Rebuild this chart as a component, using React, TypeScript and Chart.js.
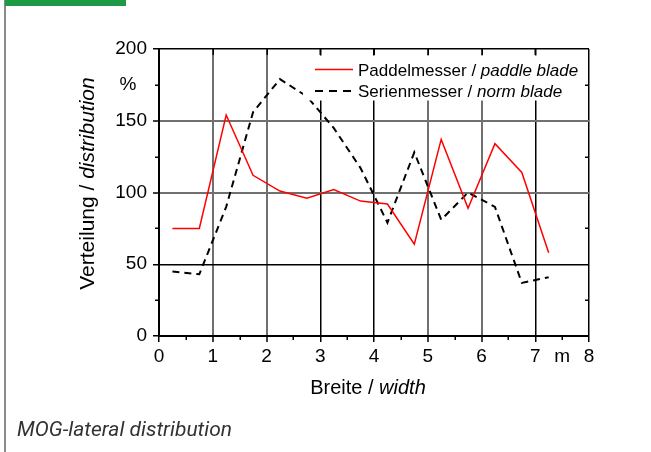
import React, { useEffect, useRef } from 'react';
import { Chart, registerables } from 'chart.js';

Chart.register(...registerables);

// ---- data ----
const xPositions = [0.25, 0.75, 1.25, 1.75, 2.25, 2.75, 3.25, 3.75, 4.25, 4.75, 5.25, 5.75, 6.25, 6.75, 7.25];
const paddleBlade = [75, 75, 154, 112, 101, 96, 102, 94, 92, 64, 137, 89, 134, 114, 58];
const normBlade = [45, 43, 90, 156, 179, 167, 145, 117, 79, 128, 81, 100, 90, 37, 41];

const seriesNormal = ['Paddelmesser / ', 'Serienmesser / '];
const seriesItalic = ['paddle blade', 'norm blade'];
const xTitle = ['Breite / ', 'width'];
const yTitle = ['Verteilung / ', 'distribution'];
const caption = 'MOG-lateral distribution';

const xUnitValue = 7.5;
const xUnitLabel = 'm';
const yUnitValue = 175;
const yUnitLabel = '%';

const X_MIN = 0, X_MAX = 8, X_STEP = 0.5;
const Y_MIN = 0, Y_MAX = 200, Y_STEP = 25;

const darkX = [0, 3, 4, 7, 8];
const darkY = [0, 50, 200];

const FONT = '"Liberation Sans", Arial, Helvetica, sans-serif';

const isMajorX = (v: number) => Number.isInteger(v);
const isMajorY = (v: number) => v % 50 === 0;

function drawMixed(ctx: CanvasRenderingContext2D, parts: string[], x: number, y: number, size: number, align: 'left' | 'center') {
  ctx.font = `${size}px ${FONT}`;
  const w0 = ctx.measureText(parts[0]).width;
  ctx.font = `italic ${size}px ${FONT}`;
  const w1 = ctx.measureText(parts[1]).width;
  const sx = align === 'center' ? x - (w0 + w1) / 2 : x;
  ctx.textAlign = 'left';
  ctx.textBaseline = 'alphabetic';
  ctx.font = `${size}px ${FONT}`;
  ctx.fillText(parts[0], sx, y);
  ctx.font = `italic ${size}px ${FONT}`;
  ctx.fillText(parts[1], sx + w0, y);
}

const overlayPlugin = {
  id: 'overlay',
  afterDatasetsDraw(chart: any) {
    const { ctx, chartArea } = chart;
    const ca = chartArea;
    ctx.save();
    // legend box (covers grid & data)
    ctx.fillStyle = '#ffffff';
    const boxLeft = ca.left + 144;
    ctx.fillRect(boxLeft, ca.top + 6.5, ca.right - 1 - boxLeft, 45);
    const lx0 = ca.left + 156, lx1 = ca.left + 194, tx = ca.left + 199;
    const rows = [ca.top + 20.5, ca.top + 42];
    // red solid
    ctx.strokeStyle = '#ff0000';
    ctx.lineWidth = 1.5;
    ctx.setLineDash([]);
    ctx.beginPath();
    ctx.moveTo(lx0, rows[0]);
    ctx.lineTo(lx1, rows[0]);
    ctx.stroke();
    // black dashed
    ctx.strokeStyle = '#000';
    ctx.lineWidth = 2;
    ctx.setLineDash([8, 6]);
    ctx.beginPath();
    ctx.moveTo(lx0, rows[1]);
    ctx.lineTo(lx1, rows[1]);
    ctx.stroke();
    ctx.setLineDash([]);
    ctx.fillStyle = '#000';
    drawMixed(ctx, [seriesNormal[0], seriesItalic[0]], tx, rows[0] + 6.5, 17, 'left');
    drawMixed(ctx, [seriesNormal[1], seriesItalic[1]], tx, rows[1] + 6, 17, 'left');

    // axis titles
    drawMixed(ctx, xTitle, (ca.left + ca.right) / 2 - 6, ca.bottom + 58, 20, 'center');
    ctx.save();
    ctx.translate(ca.left - 65, (ca.top + ca.bottom) / 2 - 9);
    ctx.rotate(-Math.PI / 2);
    drawMixed(ctx, yTitle, 0, 0, 21, 'center');
    ctx.restore();
    ctx.restore();
  },
  afterDraw(chart: any) {
    const { ctx, chartArea, scales } = chart;
    const xs = scales.x, ys = scales.y;
    const ca = chartArea;
    ctx.save();
    ctx.strokeStyle = '#000';
    ctx.lineWidth = 1.5;
    ctx.beginPath();
    xs.ticks.forEach((t: any) => {
      const px = Math.round(xs.getPixelForValue(t.value)) + 0.25;
      if (isMajorX(t.value)) {
        if (t.value !== X_MIN && t.value !== X_MAX) {
          ctx.moveTo(px, ca.top);
          ctx.lineTo(px, ca.top + 6);
        }
      } else {
        ctx.moveTo(px, ca.bottom);
        ctx.lineTo(px, ca.bottom + 4);
      }
    });
    ys.ticks.forEach((t: any) => {
      const py = Math.round(ys.getPixelForValue(t.value)) + 0.25;
      if (!isMajorY(t.value)) {
        ctx.moveTo(ca.left - 4, py);
        ctx.lineTo(ca.left, py);
        ctx.moveTo(ca.right, py);
        ctx.lineTo(ca.right - 4, py);
      }
    });
    ctx.stroke();
    ctx.restore();
  },
};

export default function App() {
  const ref = useRef<HTMLCanvasElement>(null);
  useEffect(() => {
    const canvas = ref.current;
    if (!canvas) return;
    const chart = new Chart(canvas, {
      type: 'line',
      data: {
        datasets: [
          {
            label: seriesNormal[0] + seriesItalic[0],
            data: xPositions.map((x, i) => ({ x, y: paddleBlade[i] })),
            borderColor: '#ff0000',
            borderWidth: 1.5,
            pointRadius: 0,
            fill: false,
            tension: 0,
          },
          {
            label: seriesNormal[1] + seriesItalic[1],
            data: xPositions.map((x, i) => ({ x, y: normBlade[i] })),
            borderColor: '#000000',
            borderWidth: 2,
            borderDash: [7, 5],
            pointRadius: 0,
            fill: false,
            tension: 0,
          },
        ],
      },
      options: {
        responsive: false,
        animation: false,
        devicePixelRatio: 1,
        layout: { padding: { left: 0, top: 49, right: 62, bottom: 0 } },
        plugins: { legend: { display: false }, tooltip: { enabled: false }, title: { display: false } },
        scales: {
          x: {
            type: 'linear',
            min: X_MIN,
            max: X_MAX,
            afterFit: (s: any) => { s.height = 116; },
            ticks: {
              stepSize: X_STEP,
              autoSkip: false,
              maxRotation: 0,
              padding: 3,
              color: '#000',
              font: { size: 19, family: FONT },
              callback: (v: any) => (isMajorX(v) ? String(v) : v === xUnitValue ? xUnitLabel : ''),
            },
            grid: {
              color: (c: any) => {
                const v = c.tick?.value;
                if (v == null || !isMajorX(v)) return 'rgba(0,0,0,0)';
                return darkX.includes(v) ? '#000000' : '#707070';
              },
              lineWidth: (c: any) => {
                const v = c.tick?.value;
                return v != null && darkX.includes(v) ? 1.5 : 2;
              },
              tickLength: 6,
              tickWidth: 1.5,
              tickColor: (c: any) => {
                const v = c.tick?.value;
                return v != null && isMajorX(v) ? '#000' : 'rgba(0,0,0,0)';
              },
            },
            border: { color: '#000', width: 2 },
          },
          y: {
            type: 'linear',
            min: Y_MIN,
            max: Y_MAX,
            afterFit: (s: any) => { s.width = 159; },
            ticks: {
              stepSize: Y_STEP,
              autoSkip: false,
              padding: 6,
              color: '#000',
              font: { size: 19, family: FONT },
              callback: (v: any) => (isMajorY(v) ? String(v) : v === yUnitValue ? yUnitLabel + '  ' : ''),
            },
            grid: {
              color: (c: any) => {
                const v = c.tick?.value;
                if (v == null || !isMajorY(v)) return 'rgba(0,0,0,0)';
                return darkY.includes(v) ? '#000000' : '#707070';
              },
              lineWidth: (c: any) => {
                const v = c.tick?.value;
                return v != null && darkY.includes(v) ? 1.5 : 2;
              },
              tickLength: 6,
              tickWidth: 1.5,
              tickColor: (c: any) => {
                const v = c.tick?.value;
                return v != null && isMajorY(v) ? '#000' : 'rgba(0,0,0,0)';
              },
            },
            border: { color: '#000', width: 2 },
          },
        },
      },
      plugins: [overlayPlugin],
    } as any);
    return () => chart.destroy();
  }, []);

  return (
    <div style={{ position: 'absolute', left: 0, top: 0, width: 651, height: 452, overflow: 'hidden', background: '#fff' }}>
      <div style={{ position: 'absolute', left: 4, top: 0, width: 1.5, height: 452, background: '#8a8a8a' }} />
      <div style={{ position: 'absolute', left: 5, top: 0, width: 121, height: 6, background: '#1f9a44' }} />
      <canvas ref={ref} width={651} height={452} style={{ position: 'absolute', left: 0, top: 0, width: 651, height: 452 }} />
      <div
        style={{
          position: 'absolute',
          left: 17,
          top: 419,
          font: 'italic 21px Roboto, "Liberation Sans", sans-serif',
          lineHeight: '20px',
          color: '#333333',
          whiteSpace: 'nowrap',
        }}
      >
        {caption}
      </div>
    </div>
  );
}
